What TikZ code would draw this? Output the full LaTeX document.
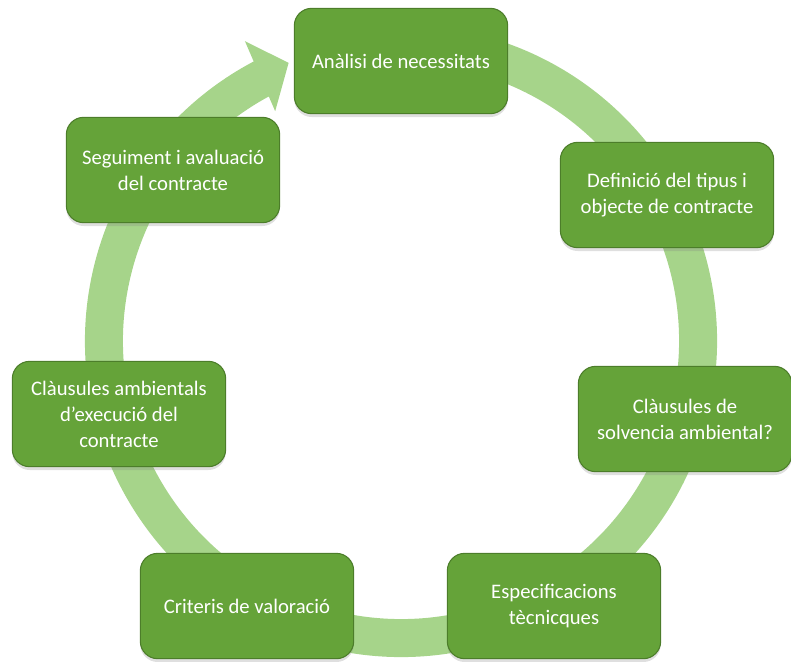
\documentclass[tikz,border=0pt]{standalone}
\usepackage{fontspec}
\setmainfont{Carlito}
\usetikzlibrary{shadows}

\definecolor{boxfill}{RGB}{101,163,57}
\definecolor{boxedge}{RGB}{76,125,42}
\definecolor{ringgreen}{RGB}{166,212,138}

\tikzset{
    stage/.style={draw=boxedge, fill=boxfill, thick, rounded corners=13pt,
        minimum width=160pt, minimum height=79pt, align=center, text=white,
        font=\fontsize{15.5}{19.5}\selectfont,
        drop shadow={opacity=0.25, shadow xshift=0pt, shadow yshift=-2.5pt}},
    ring/.style={ringgreen, line width=28.5pt}
}

\begin{document}
\begin{tikzpicture}[x=0.75pt, y=-0.75pt]
    \useasboundingbox (0,0) rectangle (791,661);
    \coordinate (mid) at (401,341);

    % cycle arrow
    \draw[ring] (mid) ++(-75:297) arc[start angle=-75, end angle=242.5, radius=297];
    \fill[ringgreen] ([shift={(mid)}]242.5:338) -- ([shift={(mid)}]248:300)
        -- ([shift={(mid)}]241.3:262) -- cycle;

    % stages
    \node[stage] (analisi) at (401,61) {Anàlisi de necessitats};
    \node[stage] (definicio) at (667,195) {Definició del tipus i\\objecte de contracte};
    \node[stage] (solvencia) at (685,419) {Clàusules de\\solvencia ambiental?};
    \node[stage] (especif) at (554,606) {Especificacions\\tècnicques};
    \node[stage] (criteris) at (247,606) {Criteris de valoració};
    \node[stage] (execucio) at (119,414) {Clàusules ambientals\\d’execució del\\contracte};
    \node[stage] (seguiment) at (173,170) {Seguiment i avaluació\\del contracte};
\end{tikzpicture}
\end{document}
